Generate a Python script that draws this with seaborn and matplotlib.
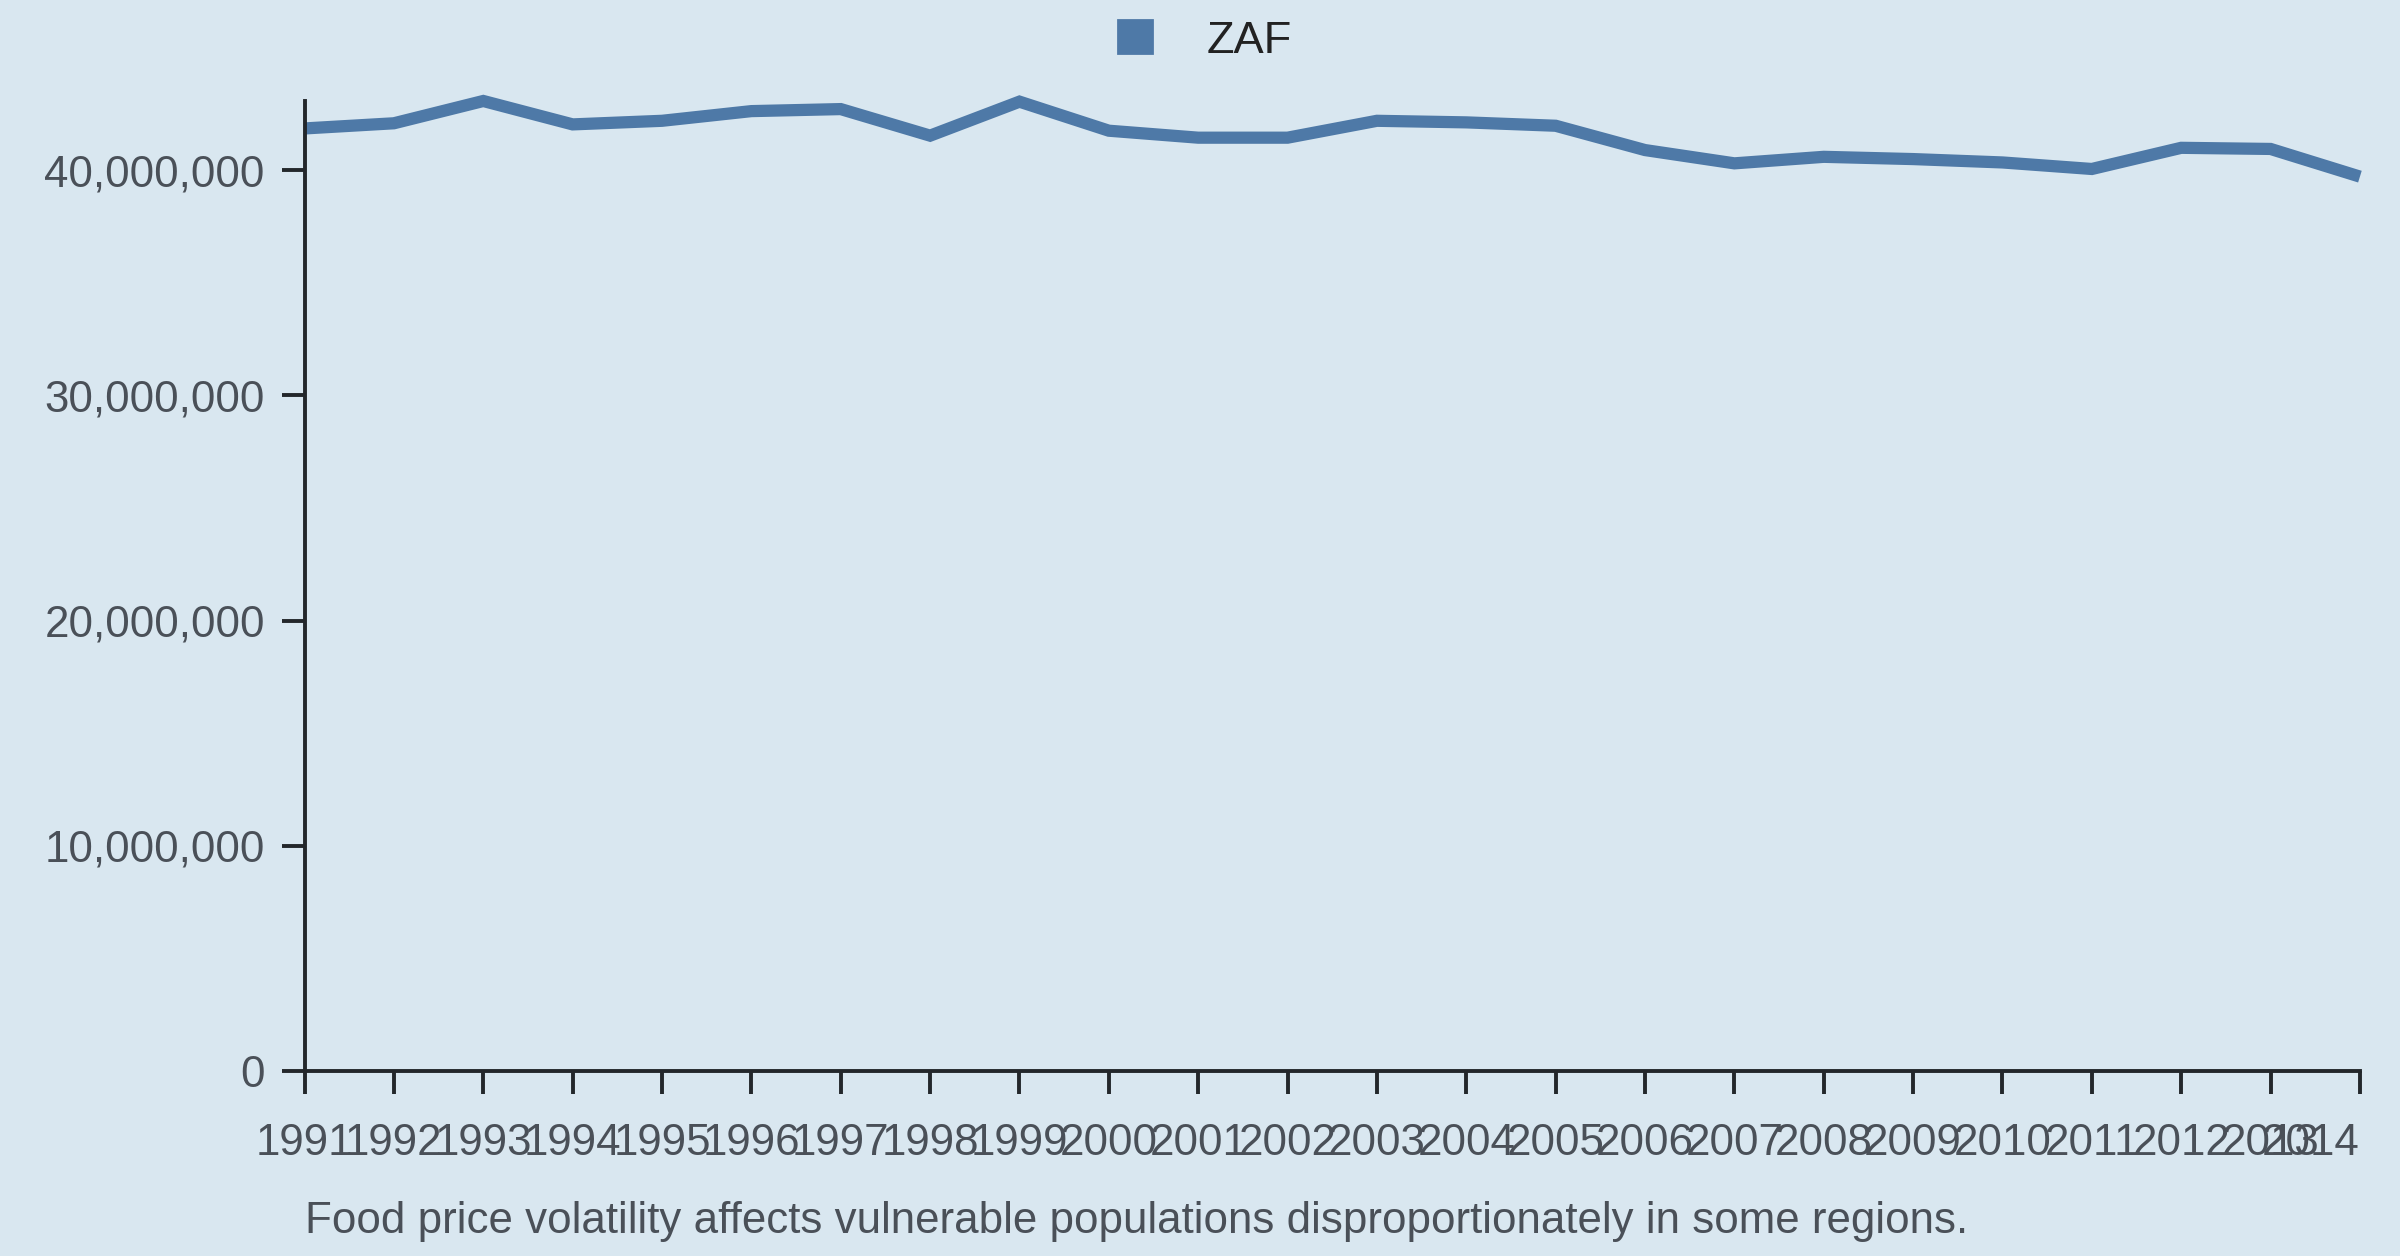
import pandas as pd
import matplotlib.pyplot as plt
import seaborn as sns
from matplotlib.patches import Patch
from matplotlib.ticker import FuncFormatter

# data
years = list(range(1991, 2015))
zaf_values = [
    41.86e6, 42.09e6, 43.08e6, 42.04e6, 42.20e6, 42.63e6, 42.72e6, 41.54e6,
    43.05e6, 41.76e6, 41.45e6, 41.45e6, 42.20e6, 42.13e6, 41.98e6, 40.90e6,
    40.31e6, 40.60e6, 40.50e6, 40.35e6, 40.06e6, 41.00e6, 40.95e6, 39.72e6,
]
series_name = "ZAF"
caption = "Food price volatility affects vulnerable populations disproportionately in some regions."

BG = "#d9e7f0"
LINE = "#4e79a7"
AXIS = "#23272b"
TEXT = "#4a5058"

sns.set_theme(style="ticks")
plt.rcParams["font.family"] = ["Liberation Sans", "DejaVu Sans"]

df = pd.DataFrame({"year": years, "value": zaf_values, "country": series_name})

fig = plt.figure(figsize=(12, 6.28), dpi=200, facecolor=BG)
ax = fig.add_axes([0.1269, 0.1473, 0.9833 - 0.1269, 0.9196 - 0.1473])
ax.set_facecolor(BG)

sns.lineplot(data=df, x="year", y="value", color=LINE, linewidth=4.4,
             legend=False, ax=ax)
for ln in ax.lines:
    ln.set_clip_on(False)
    ln.set_solid_joinstyle("miter")
    ln.set_solid_capstyle("butt")

ax.set_xlim(years[0], years[-1])
ax.set_ylim(0, max(zaf_values))
ax.set_xticks(years)
ax.set_xticklabels([str(y) for y in years])
ax.set_yticks([0, 10e6, 20e6, 30e6, 40e6])
ax.yaxis.set_major_formatter(FuncFormatter(lambda v, p: f"{v:,.0f}"))
ax.set_xlabel("")
ax.set_ylabel("")

for side in ["top", "right"]:
    ax.spines[side].set_visible(False)
for side in ["left", "bottom"]:
    ax.spines[side].set_color(AXIS)
    ax.spines[side].set_linewidth(1.4)

ax.tick_params(axis="both", colors=AXIS, length=8.3, width=1.4,
               labelsize=15.8, labelcolor=TEXT)
ax.tick_params(axis="x", pad=10.5)
ax.tick_params(axis="y", pad=6)
ax.get_xticklabels()[-1].set_horizontalalignment("right")
ax.get_xticklabels()[-1].set_x(years[-1])

handles = [Patch(facecolor=LINE, edgecolor=LINE, label=series_name)]
fig.legend(handles=handles, loc="center", bbox_to_anchor=(0.502, 1 - 41 / 1256),
           frameon=False, fontsize=16.3, handlelength=0.75, handleheight=0.75,
           handletextpad=1.2, labelcolor="#222222")

fig.text(305 / 2400, 1 - 1222 / 1256, caption, fontsize=15.8, color=TEXT,
         ha="left", va="center")

fig.savefig("out.png", dpi=200, facecolor=BG)
